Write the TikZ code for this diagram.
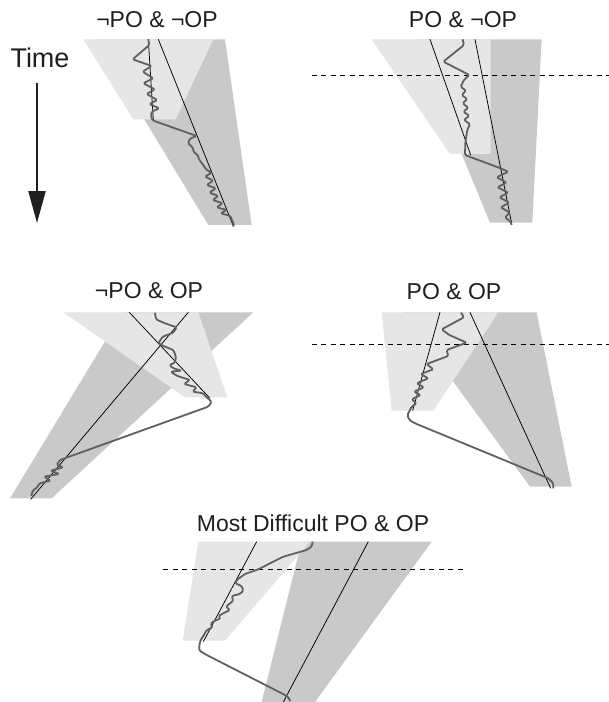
\documentclass[tikz,border=0pt]{standalone}
\usepackage{fontspec}
\setmainfont{Liberation Sans}
\usetikzlibrary{arrows.meta}
\definecolor{lightband}{HTML}{E6E6E6}
\definecolor{darkband}{HTML}{C9C9C9}
\definecolor{trace}{HTML}{606060}
\tikzset{
  lightcone/.style={fill=lightband, draw=none},
  darkcone/.style={fill=darkband, draw=none},
  walk/.style={draw=trace, line width=1.8pt, line join=round, rounded corners=1.4pt},
  ray/.style={draw=black, line width=0.75pt},
  horizon/.style={draw=black, line width=0.8pt, dash pattern=on 5pt off 4.5pt},
  title/.style={font=\fontsize{23}{27}\selectfont, text=black!88, inner sep=0pt},
  panel/.style={x=0.3333pt, y=-0.3333pt},
}
\begin{document}
\begin{tikzpicture}[x=1pt,y=-1pt]
\fill[white] (0,0) rectangle (609,702);
\useasboundingbox (0,0) rectangle (609,702);

% time axis
\node[font=\fontsize{27}{31}\selectfont, text=black!88, inner sep=0pt] (time) at (40,58) {Time};
\coordinate (arrowtop) at (37,83);
\coordinate (arrowbot) at (37,223);
\draw[line width=2.2pt, black!88, -{Triangle[length=32pt,width=17pt]}] (arrowtop) -- (arrowbot);

% titles
\node[title] (t1) at (157,20) {¬PO \& ¬OP};
\node[title] (t2) at (463,20) {PO \& ¬OP};
\node[title] (t3) at (149,291) {¬PO \& OP};
\node[title] (t4) at (454,292) {PO \& OP};
\node[title] (t5) at (313,523) {Most Difficult PO \& OP};

% panel 1
\begin{scope}[shift={(0,0)}, panel]
  \fill[darkcone] (287,118) -- (675,118) -- (755,675) -- (625,675) -- cycle;
  \fill[lightcone] (250,118) -- (640,118) -- (527,358) -- (400,358) -- cycle;
  \draw[ray] (445,118) -- (460,360);
  \draw[ray] (475,118) -- (700,678);
  \draw[walk] (445,118) -- (448,135) -- (398,178) -- (455,198) -- (428,215) -- (460,235)
    -- (430,250) -- (465,268) -- (440,282) -- (472,300) -- (448,312) -- (478,325)
    -- (455,335) -- (453,352) -- (460,362) -- (590,408) -- (570,416) -- (564,430)
    -- (578,442) -- (582,458) -- (592,463) -- (598,480) -- (610,495) -- (618,508)
    -- (635,518) -- (615,530) -- (640,542) -- (620,555) -- (648,565) -- (628,578)
    -- (655,588) -- (638,600) -- (668,610) -- (650,622) -- (680,630) -- (662,640)
    -- (692,648) -- (695,660) -- (702,670) -- (700,680);
\end{scope}

% panel 2
\begin{scope}[shift={(300,0)}, panel]
  \fill[darkcone] (343,118) -- (725,118) -- (697,668) -- (570,668) -- cycle;
  \fill[lightcone] (215,118) -- (572,118) -- (572,462) -- (450,462) -- cycle;
  \draw[horizon] (35,225) -- (930,225);
  \draw[ray] (390,118) -- (512,465);
  \draw[ray] (525,118) -- (635,670);
  \draw[walk] (488,118) -- (492,135) -- (430,185) -- (508,225) -- (492,240) -- (482,260)
    -- (498,272) -- (485,285) -- (502,297) -- (488,310) -- (505,323) -- (490,335)
    -- (508,347) -- (492,360) -- (510,372) -- (502,390) -- (498,415) -- (496,430)
    -- (495,465) -- (602,505) -- (625,515) -- (590,532) -- (620,548) -- (592,562)
    -- (625,578) -- (598,592) -- (628,608) -- (602,622) -- (630,638) -- (615,652)
    -- (632,665) -- (635,675);
\end{scope}

% panel 3
\begin{scope}[shift={(0,270)}, panel]
  \fill[darkcone] (368,127) -- (760,127) -- (155,685) -- (30,685) -- cycle;
  \fill[lightcone] (190,127) -- (595,127) -- (682,382) -- (555,382) -- cycle;
  \draw[ray] (388,127) -- (630,385);
  \draw[ray] (565,127) -- (92,688);
  \draw[walk] (465,128) -- (468,148) -- (495,160) -- (530,172) -- (520,188) -- (488,200)
    -- (475,220) -- (495,230) -- (520,240) -- (528,260) -- (525,278) -- (508,285)
    -- (520,295) -- (545,302) -- (512,305) -- (532,318) -- (570,330) -- (552,342)
    -- (590,352) -- (578,365) -- (610,370) -- (620,382) -- (635,395) -- (625,410)
    -- (180,570) -- (170,585) -- (190,592) -- (152,602) -- (178,612) -- (132,620)
    -- (152,632) -- (118,640) -- (112,652) -- (98,662) -- (94,678);
\end{scope}

% panel 4
\begin{scope}[shift={(300,270)}, panel]
  \fill[darkcone] (308,127) -- (710,127) -- (815,650) -- (690,650) -- cycle;
  \fill[lightcone] (245,127) -- (595,127) -- (400,422) -- (275,422) -- cycle;
  \draw[horizon] (35,222) -- (930,222);
  \draw[ray] (420,127) -- (338,422);
  \draw[ray] (510,127) -- (752,655);
  \draw[walk] (483,128) -- (492,142) -- (425,178) -- (448,195) -- (500,218) -- (440,240)
    -- (445,258) -- (380,282) -- (400,298) -- (362,312) -- (385,325) -- (350,340)
    -- (372,352) -- (342,365) -- (362,375) -- (335,388) -- (350,400) -- (335,410)
    -- (330,420) -- (322,435) -- (328,450) -- (345,460) -- (745,625) -- (760,640)
    -- (760,655);
\end{scope}

% panel 5
\begin{scope}[shift={(150,500)}, panel]
  \fill[darkcone] (455,125) -- (845,125) -- (495,606) -- (335,606) -- cycle;
  \fill[lightcone] (145,125) -- (480,125) -- (225,422) -- (98,422) -- cycle;
  \draw[horizon] (40,208) -- (940,208);
  \draw[ray] (320,125) -- (160,425);
  \draw[ray] (655,125) -- (400,606);
  \draw[walk] (488,125) -- (485,140) -- (470,150) -- (400,170) -- (360,190) -- (325,208)
    -- (285,222) -- (260,240) -- (256,250) -- (275,258) -- (280,272) -- (270,282)
    -- (245,288) -- (250,302) -- (238,312) -- (228,320) -- (240,330) -- (220,340)
    -- (205,348) -- (212,355) -- (195,362) -- (182,370) -- (188,382) -- (170,390)
    -- (160,408) -- (152,420) -- (148,435) -- (148,452) -- (170,465) -- (405,585)
    -- (418,595) -- (420,604);
\end{scope}
\end{tikzpicture}
\end{document}
